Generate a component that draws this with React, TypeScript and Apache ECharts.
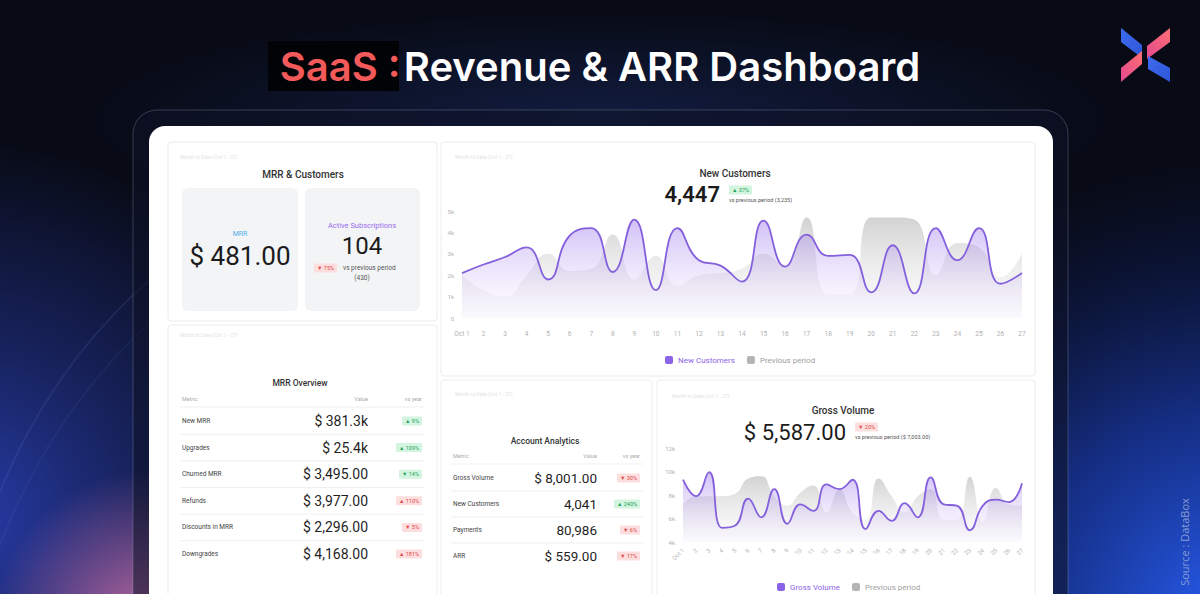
import React, { useEffect, useRef } from 'react';
import * as echarts from 'echarts';

// ---------- DATA ----------
const days = ['Oct 1', '2', '3', '4', '5', '6', '7', '8', '9', '10', '11', '12', '13', '14', '15', '16', '17', '18', '19', '20', '21', '22', '23', '24', '25', '26', '27'];
const newCustomers = [2100, 2500, 2850, 3300, 1800, 3850, 4200, 2150, 4600, 1300, 4200, 2700, 2450, 1700, 4550, 2400, 3900, 2900, 2950, 1200, 3400, 1150, 4200, 2700, 4200, 1600, 2100];
const prevCustomers = [2000, 1300, 1000, 2000, 3000, 2200, 2300, 3900, 1800, 2900, 1500, 2000, 2100, 2300, 3000, 2400, 4700, 1100, 1100, 4700, 4700, 4600, 2000, 3500, 3300, 1900, 3000];
const grossVolume = [9300, 7900, 9950, 5200, 5400, 7700, 6100, 8500, 5550, 7200, 6650, 8900, 8500, 9300, 5100, 6650, 5800, 7300, 6100, 9500, 7200, 7100, 5000, 7100, 7600, 7400, 9000];
const prevGross = [7200, 7900, 7900, 7900, 8100, 9400, 9600, 7900, 7100, 8200, 8800, 6500, 8500, 6500, 5900, 9400, 7900, 6500, 7900, 8500, 5900, 5900, 9550, 5700, 8600, 7200, 7100];
const ncTickLabels = ['0', '1k', '2k', '3k', '4k', '5k'];
const gvTickLabels = ['4k', '6k', '8k', '10k', '12k'];

const mrrMetrics = ['New MRR', 'Upgrades', 'Churned MRR', 'Refunds', 'Discounts in MRR', 'Downgrades'];
const mrrValues = ['$ 381.3k', '$ 25.4k', '$ 3,495.00', '$ 3,977.00', '$ 2,296.00', '$ 4,168.00'];
const mrrChanges = ['▲ 9%', '▲ 109%', '▼ 14%', '▲ 110%', '▼ 5%', '▲ 181%'];
const mrrGood = [true, true, true, false, false, false];

const accMetrics = ['Gross Volume', 'New Customers', 'Payments', 'ARR'];
const accValues = ['$ 8,001.00', '4,041', '80,986', '$ 559.00'];
const accChanges = ['▼ 30%', '▲ 240%', '▼ 6%', '▼ 17%'];
const accGood = [false, true, false, false];

// ---------- HELPERS ----------
const ff = 'Roboto, "Noto Sans", sans-serif';

function txt(text: string, x: number, y: number, size: number, fill: string, opts: any = {}) {
  return {
    type: 'text', x, y, z: 5,
    style: {
      text, fontSize: size, fontFamily: opts.family || ff, fontWeight: opts.weight || 'normal',
      fill, align: opts.align || 'left', verticalAlign: 'middle', ...(opts.extra || {}),
    },
  };
}
function badge(text: string, x: number, y: number, good: boolean, align = 'right') {
  return {
    type: 'text', x, y, z: 5,
    style: {
      text, fontSize: 5.5, fontFamily: ff, fill: good ? '#26a25a' : '#e04848',
      backgroundColor: good ? '#d3f4df' : '#fddede', padding: [2, 3, 1, 3], borderRadius: 1,
      align, verticalAlign: 'middle',
    },
  };
}
function card(x: number, y: number, w: number, h: number) {
  return { type: 'rect', z: 1, shape: { x, y, width: w, height: h, r: 3 }, style: { fill: '#ffffff', stroke: '#ececec', lineWidth: 1 } };
}
function hline(x1: number, x2: number, y: number) {
  return { type: 'line', z: 2, shape: { x1, y1: y, x2, y2: y }, style: { stroke: '#efefef', lineWidth: 1 } };
}
function radial(stops: [number, string][]) {
  return new echarts.graphic.RadialGradient(0.5, 0.5, 0.5, stops.map(([offset, color]) => ({ offset, color })));
}

function buildGraphics() {
  const g: any[] = [];
  // background
  g.push({ type: 'rect', z: -10, shape: { x: 0, y: 0, width: 1200, height: 594 }, style: { fill: '#080b16' } });
  g.push({ type: 'ellipse', z: -9, shape: { cx: 600, cy: 120, rx: 520, ry: 110 }, style: { fill: radial([[0, 'rgba(35,60,140,0.35)'], [1, 'rgba(35,60,140,0)']]) } });
  g.push({ type: 'circle', z: -9, shape: { cx: 1230, cy: 620, r: 460 }, style: { fill: radial([[0, 'rgba(40,95,245,1)'], [0.45, 'rgba(28,65,190,0.65)'], [1, 'rgba(15,30,100,0)']]) } });
  g.push({ type: 'circle', z: -9, shape: { cx: -40, cy: 520, r: 380 }, style: { fill: radial([[0, 'rgba(45,70,200,0.85)'], [0.5, 'rgba(40,60,170,0.45)'], [1, 'rgba(40,60,170,0)']]) } });
  g.push({ type: 'circle', z: -9, shape: { cx: 150, cy: 630, r: 160 }, style: { fill: radial([[0, 'rgba(215,120,180,0.9)'], [1, 'rgba(200,110,170,0)']]) } });
  g.push({ type: 'arc', z: -8, shape: { cx: 520, cy: 700, r: 560, startAngle: Math.PI * 1.02, endAngle: Math.PI * 1.3 }, style: { stroke: 'rgba(120,140,230,0.12)', lineWidth: 2, fill: 'none' } });
  g.push({ type: 'arc', z: -8, shape: { cx: 560, cy: 760, r: 600, startAngle: Math.PI * 1.0, endAngle: Math.PI * 1.28 }, style: { stroke: 'rgba(120,140,230,0.08)', lineWidth: 2, fill: 'none' } });

  // title
  g.push({ type: 'rect', z: -5, shape: { x: 268, y: 41, width: 131, height: 50 }, style: { fill: '#020306' } });
  g.push({
    type: 'text', x: 600, y: 66, z: 5,
    style: {
      text: '{a|SaaS :} {b|Revenue & ARR Dashboard}', align: 'center', verticalAlign: 'middle',
      rich: {
        a: { fill: '#f25a5a', fontSize: 40, fontWeight: 600, fontFamily: 'Inter, Roboto, sans-serif' },
        b: { fill: '#ffffff', fontSize: 40, fontWeight: 600, fontFamily: 'Inter, Roboto, sans-serif' },
      },
    },
  });

  // logo
  const blue = new echarts.graphic.LinearGradient(0, 0, 1, 1, [{ offset: 0, color: '#3d6bf0' }, { offset: 1, color: '#2f55d8' }]);
  const pink = new echarts.graphic.LinearGradient(0, 1, 1, 0, [{ offset: 0, color: '#e2488e' }, { offset: 1, color: '#ff6f73' }]);
  g.push({ type: 'polygon', z: 5, shape: { points: [[1121, 28], [1142, 45], [1142, 58], [1121, 42]] }, style: { fill: blue } });
  g.push({ type: 'polygon', z: 5, shape: { points: [[1121, 68], [1142, 51], [1142, 64], [1121, 82]] }, style: { fill: pink } });
  g.push({ type: 'polygon', z: 5, shape: { points: [[1147, 46], [1170, 28], [1170, 42], [1147, 59]] }, style: { fill: pink } });
  g.push({ type: 'polygon', z: 5, shape: { points: [[1148, 56], [1170, 68], [1170, 82], [1148, 69]] }, style: { fill: blue } });

  // source
  g.push({ type: 'text', x: 1184, y: 542, z: 5, rotation: Math.PI / 2, style: { text: 'Source : DataBox', fontSize: 11, fontFamily: '"Open Sans", sans-serif', fill: 'rgba(170,185,220,0.75)', align: 'center', verticalAlign: 'middle' } });

  // frame + white panel
  g.push({ type: 'rect', z: -4, shape: { x: 133, y: 110, width: 935, height: 520, r: 24 }, style: { fill: 'rgba(14,18,38,0.55)', stroke: 'rgba(170,180,210,0.28)', lineWidth: 1 } });
  g.push({ type: 'rect', z: -3, shape: { x: 149, y: 126, width: 904, height: 480, r: [16, 16, 0, 0] }, style: { fill: '#ffffff' } });

  // widgets
  g.push(card(168, 142, 269, 179));
  g.push(card(441, 142, 594, 234));
  g.push(card(168, 325, 269, 280));
  g.push(card(441, 380, 211, 225));
  g.push(card(657, 380, 378, 225));

  const faint = '#e3e3e3';
  const hdr = 'Month to Date (Oct 1 - 27)';
  g.push(txt(hdr, 180, 157, 5, faint));
  g.push(txt(hdr, 455, 157, 5, faint));
  g.push(txt(hdr, 180, 335, 5, faint));
  g.push(txt(hdr, 455, 394, 5, faint));
  g.push(txt(hdr, 672, 396, 5, faint));

  // W1 MRR & Customers
  g.push(txt('MRR & Customers', 303, 174, 10, '#333', { align: 'center', weight: 500 }));
  g.push({ type: 'rect', z: 2, shape: { x: 182, y: 188, width: 116, height: 123, r: 6 }, style: { fill: '#f3f4f6' } });
  g.push({ type: 'rect', z: 2, shape: { x: 305, y: 188, width: 115, height: 123, r: 6 }, style: { fill: '#f3f4f6' } });
  g.push(txt('MRR', 240, 234, 7, '#58b0ea', { align: 'center' }));
  g.push(txt('$ 481.00', 240, 256, 26, '#1b1b1b', { align: 'center' }));
  g.push(txt('Active Subscriptions', 362, 225, 7.5, '#9a6cf0', { align: 'center' }));
  g.push(txt('104', 362, 246, 24, '#1b1b1b', { align: 'center' }));
  g.push(badge('▼ 75%', 314, 268, false, 'left'));
  g.push(txt('vs previous period', 343, 268, 6.5, '#555'));
  g.push(txt('(430)', 362, 278, 6.5, '#555', { align: 'center' }));

  // W2 New Customers header
  g.push(txt('New Customers', 735, 173, 10, '#333', { align: 'center', weight: 500 }));
  g.push(txt('4,447', 720, 194, 22, '#1b1b1b', { align: 'right', weight: 600 }));
  g.push(badge('▲ 37%', 729, 190, true, 'left'));
  g.push(txt('vs previous period (3,235)', 729, 200, 5.5, '#555'));

  // W3 MRR Overview
  g.push(txt('MRR Overview', 300, 383, 8.5, '#333', { align: 'center', weight: 500 }));
  g.push(txt('Metric', 182, 399, 5.5, '#aaa'));
  g.push(txt('Value', 368, 399, 5.5, '#aaa', { align: 'right' }));
  g.push(txt('vs year', 422, 399, 5.5, '#aaa', { align: 'right' }));
  g.push(hline(180, 425, 407));
  mrrMetrics.forEach((m, i) => {
    const y = 421 + i * 26.6;
    g.push(txt(m, 182, y, 6.5, '#444'));
    g.push(txt(mrrValues[i], 368, y, 14, '#1f1f1f', { align: 'right' }));
    g.push(badge(mrrChanges[i], 422, y, mrrGood[i]));
    if (i < mrrMetrics.length - 1) g.push(hline(180, 425, y + 13.3));
  });

  // W4 Account Analytics
  g.push(txt('Account Analytics', 545, 441, 8.5, '#333', { align: 'center', weight: 500 }));
  g.push(txt('Metric', 453, 456, 5.5, '#aaa'));
  g.push(txt('Value', 597, 456, 5.5, '#aaa', { align: 'right' }));
  g.push(txt('vs year', 640, 456, 5.5, '#aaa', { align: 'right' }));
  g.push(hline(451, 643, 464));
  accMetrics.forEach((m, i) => {
    const y = 478 + i * 26;
    g.push(txt(m, 453, y, 6.5, '#444'));
    g.push(txt(accValues[i], 597, y, 13.5, '#1f1f1f', { align: 'right' }));
    g.push(badge(accChanges[i], 640, y, accGood[i]));
    if (i < accMetrics.length - 1) g.push(hline(451, 643, y + 13));
  });

  // W5 Gross Volume header
  g.push(txt('Gross Volume', 843, 410, 10, '#333', { align: 'center', weight: 500 }));
  g.push(txt('$ 5,587.00', 846, 432, 22, '#1b1b1b', { align: 'right' }));
  g.push(badge('▼ 20%', 855, 427, false, 'left'));
  g.push(txt('vs previous period ($ 7,003.00)', 855, 437, 5.5, '#555'));
  return g;
}

function areaGrad(top: string, bottom: string) {
  return new echarts.graphic.LinearGradient(0, 0, 0, 1, [{ offset: 0, color: top }, { offset: 1, color: bottom }]);
}

export default function App() {
  const ref = useRef<HTMLDivElement>(null);
  useEffect(() => {
    if (!ref.current) return;
    const chart = echarts.init(ref.current, undefined, { renderer: 'svg' });
    const axisLabel = { color: '#b0b0b0', fontSize: 6.5, fontFamily: ff };
    const purpleLine = '#8460dc';
    const option: any = {
      animation: false,
      graphic: buildGraphics(),
      grid: [
        { left: 462, right: 178, top: 211, bottom: 276 },
        { left: 683, right: 178, top: 448, bottom: 52 },
      ],
      xAxis: [
        { type: 'category', gridIndex: 0, data: days, boundaryGap: false, z: 10, axisLine: { show: false }, axisTick: { show: false }, axisLabel: { ...axisLabel, interval: 0, margin: 12 } },
        { type: 'category', gridIndex: 1, data: days, boundaryGap: false, z: 10, axisLine: { show: false }, axisTick: { show: false }, axisLabel: { ...axisLabel, fontSize: 6, interval: 0, rotate: 45, margin: 7 } },
      ],
      yAxis: [
        { type: 'value', gridIndex: 0, min: 0, max: 5000, interval: 1000, z: 10, splitLine: { show: false }, axisLine: { show: false }, axisTick: { show: false }, axisLabel: { ...axisLabel, fontSize: 6, margin: 8, formatter: (v: number) => ncTickLabels[Math.round(v / 1000)] } },
        { type: 'value', gridIndex: 1, min: 4000, max: 12000, interval: 2000, z: 10, splitLine: { show: false }, axisLine: { show: false }, axisTick: { show: false }, axisLabel: { ...axisLabel, fontSize: 6, margin: 8, formatter: (v: number) => gvTickLabels[Math.round((v - 4000) / 2000)] } },
      ],
      legend: [
        {
          left: 660, top: 351, itemWidth: 8, itemHeight: 8, itemGap: 12, icon: 'roundRect', z: 10,
          textStyle: { fontSize: 8, fontFamily: ff },
          data: [
            { name: 'New Customers', textStyle: { color: '#8b63e6' } },
            { name: 'Previous period', textStyle: { color: '#a0a0a0' } },
          ],
        },
        {
          left: 772, top: 578, itemWidth: 8, itemHeight: 8, itemGap: 12, icon: 'roundRect', z: 10,
          textStyle: { fontSize: 8, fontFamily: ff },
          data: [
            { name: 'Gross Volume', textStyle: { color: '#8b63e6' } },
            { name: 'Previous period', textStyle: { color: '#a0a0a0' } },
          ],
        },
      ],
      series: [
        {
          name: 'Previous period', type: 'line', xAxisIndex: 0, yAxisIndex: 0, data: prevCustomers, smooth: 0.5, symbol: 'none', z: 10,
          lineStyle: { width: 0 }, itemStyle: { color: '#b4b4b4' },
          areaStyle: { color: areaGrad('rgba(170,170,170,0.75)', 'rgba(225,225,225,0.12)') },
        },
        {
          name: 'New Customers', type: 'line', xAxisIndex: 0, yAxisIndex: 0, data: newCustomers, smooth: 0.5, symbol: 'none', z: 11,
          lineStyle: { width: 1.8, color: purpleLine }, itemStyle: { color: '#8b63e6' },
          areaStyle: { color: areaGrad('rgba(150,110,235,0.62)', 'rgba(210,195,250,0.08)') },
        },
        {
          name: 'Previous period', type: 'line', xAxisIndex: 1, yAxisIndex: 1, data: prevGross, smooth: 0.5, symbol: 'none', z: 10,
          lineStyle: { width: 0 }, itemStyle: { color: '#b4b4b4' },
          areaStyle: { color: areaGrad('rgba(170,170,170,0.75)', 'rgba(225,225,225,0.12)') },
        },
        {
          name: 'Gross Volume', type: 'line', xAxisIndex: 1, yAxisIndex: 1, data: grossVolume, smooth: 0.5, symbol: 'none', z: 11,
          lineStyle: { width: 1.8, color: purpleLine }, itemStyle: { color: '#8b63e6' },
          areaStyle: { color: areaGrad('rgba(150,110,235,0.62)', 'rgba(210,195,250,0.08)') },
        },
      ],
    };
    chart.setOption(option);
    return () => chart.dispose();
  }, []);
  return <div ref={ref} style={{ position: 'absolute', left: 0, top: 0, width: 1200, height: 594 }} />;
}
